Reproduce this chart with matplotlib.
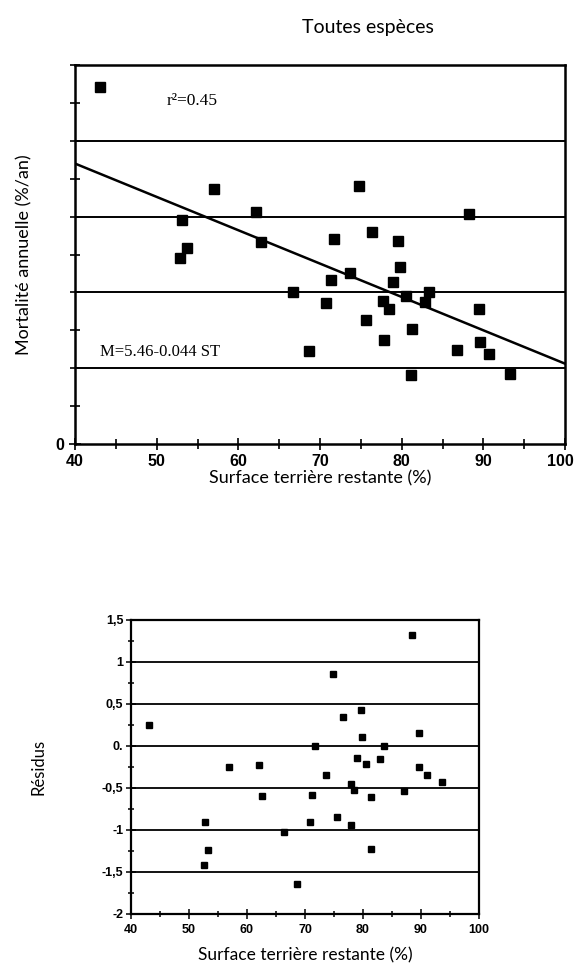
import numpy as np
import matplotlib
matplotlib.use('Agg')
import matplotlib.pyplot as plt
from matplotlib.ticker import MultipleLocator, FixedLocator, FixedFormatter, FuncFormatter

# Mortalité annuelle vs surface terrière restante
st_top = [43.1, 57.0, 74.8, 62.2, 88.2, 53.1, 62.8, 71.7, 76.4, 79.5, 53.7,
          52.9, 79.8, 73.7, 71.3, 78.9, 66.7, 80.5, 83.4, 77.7, 82.9, 70.7,
          78.4, 89.5, 75.6, 81.3, 77.8, 89.6, 68.7, 86.8, 90.7, 81.1, 93.3]
mort_top = [4.71, 3.37, 3.41, 3.06, 3.04, 2.95, 2.67, 2.71, 2.80, 2.68, 2.58,
            2.45, 2.33, 2.26, 2.17, 2.14, 2.00, 1.95, 2.00, 1.88, 1.87, 1.86,
            1.78, 1.78, 1.63, 1.52, 1.37, 1.35, 1.23, 1.24, 1.19, 0.91, 0.93]

# regression M = a - b * ST
intercept = 5.46
slope = -0.044
fit_x = [40, 100]

# Résidus
st_res = [88.5, 74.8, 76.5, 79.7, 43.1, 79.9, 89.7, 71.8, 83.6, 78.9, 82.9,
          80.5, 56.9, 62.1, 89.7, 73.6, 91.0, 93.7, 77.9, 78.5, 87.0, 62.6,
          71.2, 81.3, 75.5, 52.8, 70.8, 77.9, 66.4, 53.2, 81.3, 52.5, 68.6]
res = [1.32, 0.86, 0.35, 0.43, 0.25, 0.11, 0.16, 0.0, 0.0, -0.14, -0.16,
       -0.22, -0.25, -0.23, -0.25, -0.34, -0.35, -0.43, -0.45, -0.52, -0.53, -0.60,
       -0.58, -0.61, -0.85, -0.91, -0.91, -0.94, -1.02, -1.24, -1.23, -1.42, -1.64]

res_ticks = [1.5, 1, 0.5, 0, -0.5, -1, -1.5, -2]
res_labels = ['1,5', '1', '0,5', '0.', '-0,5', '-1', '-1,5', '-2']

sans = ['Lato', 'DejaVu Sans']
serif = ['Liberation Serif', 'DejaVu Serif']
bold_sans = ['Liberation Sans', 'DejaVu Sans']

fig = plt.figure(figsize=(5.76, 9.73), dpi=100)

# ---- top chart ----
ax = fig.add_axes([75 / 576, 1 - 444 / 973, 490 / 576, 379 / 973])
ax.set_xlim(40, 100)
ax.set_ylim(0, 5)
for y in [1, 2, 3, 4]:
    ax.axhline(y, color='black', lw=1.4, zorder=1)
fx = np.array(fit_x)
ax.plot(fx, intercept + slope * fx, color='black', lw=1.8, zorder=2)
ax.plot(st_top, mort_top, linestyle='none', marker='s', ms=7, color='black', zorder=3)

ax.xaxis.set_major_locator(MultipleLocator(10))
ax.xaxis.set_minor_locator(MultipleLocator(5))
# last label (100) is drawn separately, nudged left so it stays on the page
ax.xaxis.set_major_formatter(FuncFormatter(lambda v, p: '' if v >= 100 else f'{v:.0f}'))
ax.yaxis.set_major_locator(FixedLocator([0]))
ax.yaxis.set_minor_locator(MultipleLocator(0.5))
ax.tick_params(axis='both', which='both', direction='inout', width=1.2, color='black')
ax.tick_params(axis='both', which='major', length=9)
ax.tick_params(axis='both', which='minor', length=7)
ax.tick_params(axis='x', pad=3)
for s in ax.spines.values():
    s.set_linewidth(1.8)
for lab in ax.get_xticklabels() + ax.get_yticklabels():
    lab.set_fontfamily(bold_sans)
    lab.set_fontweight('bold')
    lab.set_fontsize(11.5)
ax.annotate('100', xy=(100, 0), xycoords='data', xytext=(-3, -7.5),
            textcoords='offset points', ha='center', va='top',
            fontsize=11.5, fontweight='bold', family=bold_sans, annotation_clip=False)

ax.set_xlabel('Surface terrière restante (%)', fontsize=13, family=sans, labelpad=0.5)
ax.set_ylabel('Mortalité annuelle (%/an)', fontsize=13, family=sans, labelpad=16)
ax.text(51.2, 4.52, 'r²=0.45', fontsize=12.5, family=serif, va='center')
ax.text(43.0, 1.22, 'M=5.46-0.044 ST', fontsize=12, family=serif, va='center')

fig.text(368 / 576, 1 - 28 / 973, 'Toutes espèces', fontsize=14, family=sans,
         ha='center', va='center')

# ---- residuals ----
ax2 = fig.add_axes([131 / 576, 1 - 914 / 973, 348 / 576, 294 / 973])
ax2.set_xlim(40, 100)
ax2.set_ylim(-2, 1.5)
for y in [1, 0.5, 0, -0.5, -1, -1.5]:
    ax2.axhline(y, color='black', lw=1.3, zorder=1)
ax2.plot(st_res, res, linestyle='none', marker='s', ms=5, color='black', zorder=3)

ax2.xaxis.set_major_locator(MultipleLocator(10))
ax2.xaxis.set_minor_locator(MultipleLocator(5))
ax2.yaxis.set_major_locator(FixedLocator(res_ticks))
ax2.yaxis.set_major_formatter(FixedFormatter(res_labels))
ax2.yaxis.set_minor_locator(MultipleLocator(0.25))
ax2.tick_params(axis='both', which='both', direction='inout', width=1.1, color='black')
ax2.tick_params(axis='both', which='major', length=7, labelsize=9)
ax2.tick_params(axis='both', which='minor', length=5)
ax2.tick_params(axis='y', pad=2)
for s in ax2.spines.values():
    s.set_linewidth(1.6)
for lab in ax2.get_xticklabels() + ax2.get_yticklabels():
    lab.set_fontfamily(bold_sans)
    lab.set_fontweight('bold')

ax2.set_xlabel('Surface terrière restante (%)', fontsize=12.5, family=sans, labelpad=8)
ax2.set_ylabel('Résidus', fontsize=12, family=sans, labelpad=40)

fig.savefig('out.png', dpi=100)
